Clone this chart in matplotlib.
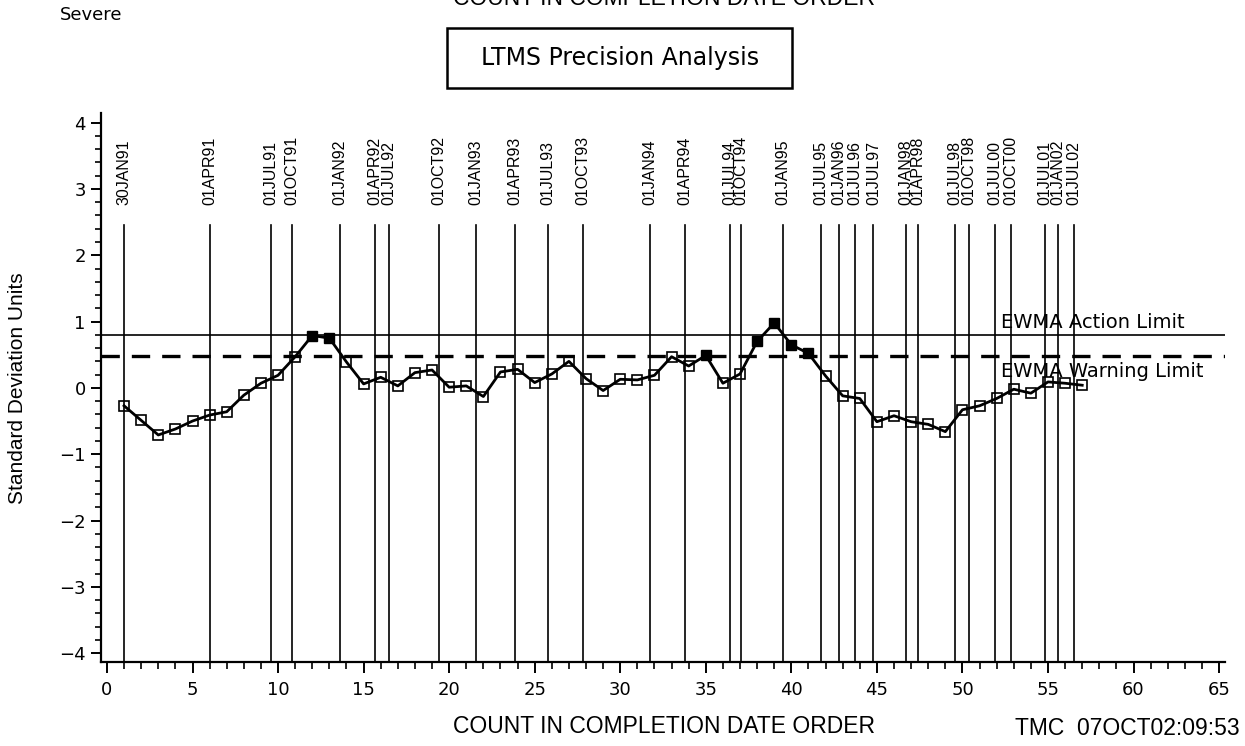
import matplotlib
matplotlib.use('Agg')
import matplotlib.pyplot as plt
from matplotlib.patches import Rectangle
from matplotlib.ticker import MultipleLocator

# EWMA values in completion date order
counts = list(range(1, 58))
ewma = [-0.27, -0.49, -0.71, -0.62, -0.50, -0.41, -0.36, -0.11, 0.07, 0.19,
        0.47, 0.79, 0.75, 0.39, 0.06, 0.16, 0.03, 0.23, 0.27, 0.01,
        0.03, -0.13, 0.24, 0.28, 0.08, 0.21, 0.40, 0.14, -0.04, 0.13,
        0.12, 0.19, 0.47, 0.33, 0.49, 0.07, 0.21, 0.70, 0.98, 0.65,
        0.52, 0.18, -0.12, -0.16, -0.51, -0.42, -0.51, -0.55, -0.66, -0.33,
        -0.27, -0.16, -0.02, -0.08, 0.09, 0.07, 0.04]

action_limit = 0.80
warning_limit = 0.48

# date reference lines
date_pos = [1.0, 6.0, 9.57, 10.81, 13.6, 15.65, 16.5, 19.39, 21.58, 23.85,
            25.79, 27.8, 31.75, 33.76, 36.4, 37.05, 39.5, 41.75, 42.8, 43.74,
            44.8, 46.7, 47.38, 49.58, 50.4, 51.88, 52.82, 54.8, 55.56, 56.52]
date_labels = ['30JAN91', '01APR91', '01JUL91', '01OCT91', '01JAN92', '01APR92',
               '01JUL92', '01OCT92', '01JAN93', '01APR93', '01JUL93', '01OCT93',
               '01JAN94', '01APR94', '01JUL94', '01OCT94', '01JAN95', '01JUL95',
               '01JAN96', '01JUL96', '01JUL97', '01JAN98', '01APR98', '01JUL98',
               '01OCT98', '01JUL00', '01OCT00', '01JUL01', '01JAN02', '01JUL02']

helv = ['Liberation Sans', 'DejaVu Sans']

fig = plt.figure(figsize=(12.45, 7.46), dpi=100)
ax = fig.add_axes([0.0811, 0.1126, 0.9029, 0.7364])

for x in date_pos:
    ax.plot([x, x], [-4.2, 2.46], color='black', lw=1.2, zorder=1)
for x, lab in zip(date_pos, date_labels):
    ax.text(x, 2.76, lab, rotation=90, ha='center', va='bottom',
            fontsize=11.5, family=helv)

ax.axhline(action_limit, color='black', lw=1.2, zorder=1)
ax.axhline(warning_limit, color='black', lw=2.4, ls=(0, (5.5, 3.6)), zorder=1)
ax.text(52.25, action_limit + 0.1, 'EWMA Action Limit', fontsize=14)
ax.text(52.25, warning_limit - 0.31, 'EWMA Warning Limit', fontsize=14)

ax.plot(counts, ewma, color='black', lw=2.0, zorder=3)
opn = [(c, v) for c, v in zip(counts, ewma) if v < warning_limit]
fil = [(c, v) for c, v in zip(counts, ewma) if v >= warning_limit]
ax.plot([p[0] for p in opn], [p[1] for p in opn], ls='none', marker='s',
        ms=7, mfc='none', mec='black', mew=1.2, zorder=4)
ax.plot([p[0] for p in fil], [p[1] for p in fil], ls='none', marker='s',
        ms=7.5, mfc='black', mec='black', zorder=4)

ax.set_xlim(-0.35, 65.35)
ax.set_ylim(-4.134, 4.151)
ax.xaxis.set_major_locator(MultipleLocator(5))
ax.xaxis.set_minor_locator(MultipleLocator(1))
ax.yaxis.set_major_locator(MultipleLocator(1))
ax.yaxis.set_minor_locator(MultipleLocator(0.2))
for s in ['top', 'right']:
    ax.spines[s].set_visible(False)
for s in ['left', 'bottom']:
    ax.spines[s].set_linewidth(1.6)
ax.tick_params(axis='x', which='major', length=8, width=1.4, labelsize=13, pad=6)
ax.tick_params(axis='x', which='minor', length=5, width=1.2)
ax.tick_params(axis='y', which='major', length=7, width=1.4, labelsize=13, pad=4)
ax.tick_params(axis='y', which='minor', length=4, width=1.2)

fig.text(18 / 1245, 0.48, 'Standard Deviation Units', rotation=90, ha='center',
         va='center', fontsize=15, family=helv)
fig.text(0.533, 1 - 733 / 746, 'COUNT IN COMPLETION DATE ORDER', ha='center',
         va='baseline', fontsize=16.5, family=helv)
# header line, cut by the top edge as in the original output
fig.text(0.533, 1 - 5 / 746, 'COUNT IN COMPLETION DATE ORDER', ha='center',
         va='baseline', fontsize=16.5, family=helv)
fig.text(0.9955, 1 - 735 / 746, 'TMC  07OCT02:09:53', ha='right',
         va='baseline', fontsize=16.5, family=helv)
fig.text(60 / 1245, 1 - 20 / 746, 'Severe', ha='left', va='baseline', fontsize=13)

fig.patches.append(Rectangle((447 / 1245, 1 - 88 / 746), 345 / 1245, 60 / 746,
                             transform=fig.transFigure, fill=False,
                             edgecolor='black', lw=1.8))
fig.text(620 / 1245, 1 - 58 / 746, 'LTMS Precision Analysis', ha='center',
         va='center', fontsize=17)

fig.savefig('out.png', dpi=100)
